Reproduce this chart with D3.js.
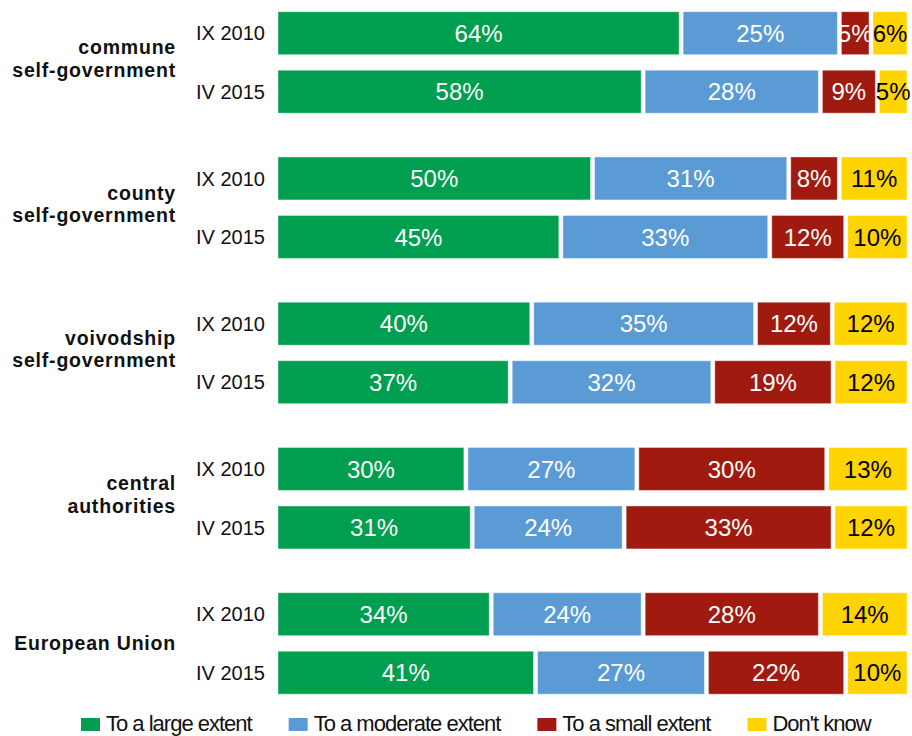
<!DOCTYPE html>
<html>
<head>
<meta charset="utf-8">
<script src="https://cdn.jsdelivr.net/npm/d3@7"></script>
<style>
  html, body { margin: 0; padding: 0; background: #fff; }
  svg { display: block; }
</style>
</head>
<body>
<svg id="chart" width="912" height="736"></svg>
<script>
// ---- data ----
const categories = ["commune self-government", "county self-government", "voivodship self-government", "central authorities", "European Union"];
const categoryLines = [["commune", "self-government"], ["county", "self-government"], ["voivodship", "self-government"], ["central", "authorities"], ["European Union"]];
const periods = ["IX 2010", "IV 2015"];
const seriesNames = ["To a large extent", "To a moderate extent", "To a small extent", "Don't know"];
// rows: category x period (IX 2010, IV 2015)
const largeExtent    = [64, 58, 50, 45, 40, 37, 30, 31, 34, 41];
const moderateExtent = [25, 28, 31, 33, 35, 32, 27, 24, 24, 27];
const smallExtent    = [5, 9, 8, 12, 12, 19, 30, 33, 28, 22];
const dontKnow       = [6, 5, 11, 10, 12, 12, 13, 12, 14, 10];
const colors = ["#009E4F", "#5B9BD5", "#A11A10", "#FFD400"];
const labelColors = ["#ffffff", "#ffffff", "#ffffff", "#000000"];

// ---- build rows ----
const seriesValues = [largeExtent, moderateExtent, smallExtent, dontKnow];
const rows = [];
categories.forEach((c, ci) => {
  periods.forEach((p, pi) => {
    const i = ci * periods.length + pi;
    const vals = seriesValues.map(s => s[i]);
    rows.push({ category: c, period: p, values: vals, total: d3.sum(vals) });
  });
});

const svg = d3.select("#chart");
const FONT = "'Liberation Sans', Arial, Helvetica, sans-serif";

// ---- scales ----
const xLeft = 276, xRight = 909;
const yGroup = d3.scaleBand().domain(categories).range([11.7, 694.2]).paddingInner(0.3012).paddingOuter(0);
const yPeriod = d3.scaleBand().domain(periods).range([0, yGroup.bandwidth()]).paddingInner(0.265).paddingOuter(0);
const color = d3.scaleOrdinal().domain(seriesNames).range(colors);
const labelColor = d3.scaleOrdinal().domain(seriesNames).range(labelColors);

const gap = 2; // half of white gap between segments

// ---- bars ----
const rowG = svg.selectAll("g.row").data(rows).join("g")
  .attr("class", "row")
  .attr("transform", d => `translate(0,${yGroup(d.category) + yPeriod(d.period)})`);

rowG.each(function (d) {
  const x = d3.scaleLinear().domain([0, d.total]).range([xLeft, xRight]);
  let cum = 0;
  const segs = d.values.map((v, k) => {
    const s = { name: seriesNames[k], v, x0: cum, x1: cum + v };
    cum += v;
    return s;
  });
  const g = d3.select(this);
  const h = yPeriod.bandwidth();
  g.selectAll("rect").data(segs).join("rect")
    .attr("x", s => x(s.x0) + gap)
    .attr("y", 0)
    .attr("width", s => Math.max(0, x(s.x1) - x(s.x0) - 2 * gap))
    .attr("height", h)
    .attr("fill", s => color(s.name))
    .attr("stroke", "rgba(255,255,255,0.45)")
    .attr("stroke-width", 1);
  g.selectAll("text.val").data(segs).join("text")
    .attr("class", "val")
    .attr("x", s => (x(s.x0) + x(s.x1)) / 2)
    .attr("y", h / 2)
    .attr("dy", "0.36em")
    .attr("text-anchor", "middle")
    .attr("font-family", FONT)
    .attr("font-size", 24)
    .attr("fill", s => labelColor(s.name))
    .text(s => s.v + "%");
});

// ---- period labels ----
svg.selectAll("text.period").data(rows).join("text")
  .attr("class", "period")
  .attr("x", 265)
  .attr("y", d => yGroup(d.category) + yPeriod(d.period) + yPeriod.bandwidth() / 2)
  .attr("dy", "0.36em")
  .attr("text-anchor", "end")
  .attr("font-family", FONT)
  .attr("font-size", 20)
  .attr("fill", "#111")
  .text(d => d.period);

// ---- category labels ----
categories.forEach((c, ci) => {
  const cy = yGroup(c) + yGroup.bandwidth() / 2;
  const lines = categoryLines[ci];
  const t = svg.append("text")
    .attr("class", "category")
    .attr("text-anchor", "end")
    .attr("font-family", FONT)
    .attr("font-size", 19.5)
    .attr("font-weight", "bold")
    .attr("letter-spacing", "0.8px")
    .attr("fill", "#111");
  const offsets = lines.length === 1 ? [7] : [-8, 14.5];
  lines.forEach((ln, li) => {
    t.append("tspan").attr("x", 176).attr("y", cy + offsets[li]).text(ln);
  });
});

// ---- legend ----
const legend = svg.append("g").attr("class", "legend");
let lx = 81;
seriesNames.forEach((name, k) => {
  const item = legend.append("g").attr("transform", `translate(${lx},0)`);
  item.append("rect").attr("x", 0).attr("y", 718).attr("width", 19).attr("height", 13).attr("fill", color(name));
  const txt = item.append("text")
    .attr("x", 25).attr("y", 731)
    .attr("font-family", FONT)
    .attr("font-size", 22)
    .attr("letter-spacing", "-1px")
    .attr("fill", "#111")
    .text(name);
  const w = txt.node().getComputedTextLength();
  lx += 25 + w + 37;
});
</script>
</body>
</html>
